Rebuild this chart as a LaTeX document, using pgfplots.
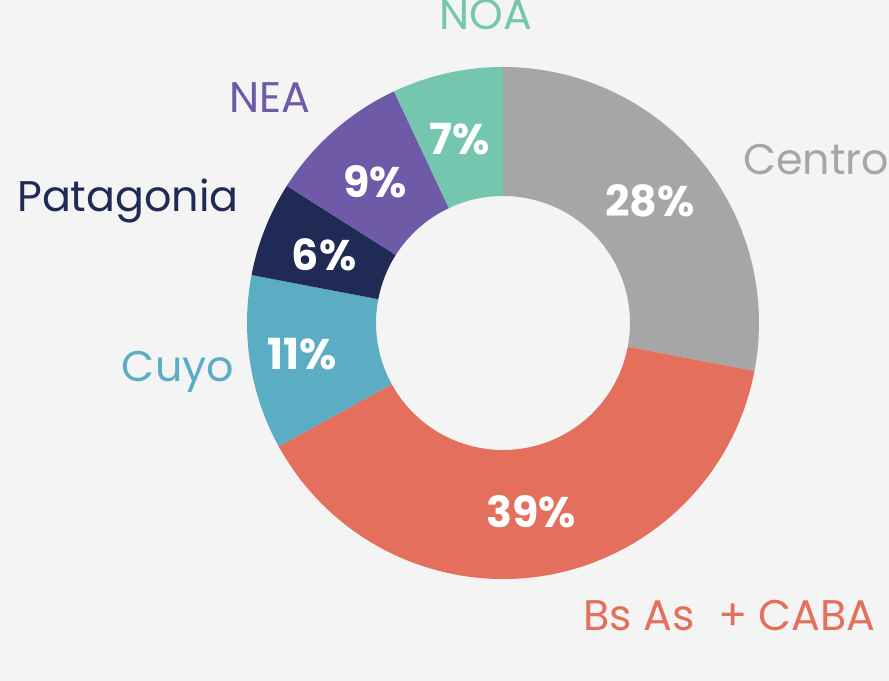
\documentclass[border=0pt]{standalone}
\usepackage{pgfplots}
\pgfplotsset{compat=1.18}
\usepackage{fontspec}
\setmainfont{Poppins}
\definecolor{bg}{HTML}{F4F4F4}
\definecolor{cCentro}{HTML}{A6A6A6}
\definecolor{cBsAs}{HTML}{E46F5C}
\definecolor{cCuyo}{HTML}{5BADC4}
\definecolor{cPatagonia}{HTML}{1F2A55}
\definecolor{cNEA}{HTML}{6E5AA6}
\definecolor{cNOA}{HTML}{75C6AF}
% shares (percent), clockwise from top: Centro, BsAs+CABA, Cuyo, Patagonia, NEA, NOA
\newcommand{\slice}[3]{% start angle, end angle, colour
  \fill[#3] (axis cs:{256*cos(#1)},{256*sin(#1)}) arc[start angle=#1,end angle=#2,radius=256bp]
    -- (axis cs:{127*cos(#2)},{127*sin(#2)}) arc[start angle=#2,end angle=#1,radius=127bp] -- cycle;}
\begin{document}
\begin{tikzpicture}
\begin{axis}[
  at={(0,0)}, anchor=south west,
  width=889bp, height=681bp, scale only axis,
  xmin=-503, xmax=386, ymin=-358, ymax=323,
  hide axis, clip=false]
\fill[bg] (axis cs:-503,-358) rectangle (axis cs:386,323);
% values: 28, 39, 11, 6, 9, 7  -> 3.6 deg per percent
\slice{90}{-10.8}{cCentro}
\slice{-10.8}{-151.2}{cBsAs}
\slice{-151.2}{-190.8}{cCuyo}
\slice{-190.8}{-212.4}{cPatagonia}
\slice{-212.4}{-244.8}{cNEA}
\slice{-244.8}{-270}{cNOA}
% category labels
\node[anchor=base, text=cNOA, font=\fontsize{43}{50}\selectfont, inner sep=0] at (axis cs:-17,293) {NOA};
\node[anchor=base, text=cNEA, font=\fontsize{43}{50}\selectfont, inner sep=0] at (axis cs:-233,210) {NEA};
\node[anchor=base, text=cPatagonia, font=\fontsize{43}{50}\selectfont, inner sep=0] at (axis cs:-375,111) {Patagonia};
\node[anchor=base, text=cCuyo, font=\fontsize{43}{50}\selectfont, inner sep=0] at (axis cs:-325,-59) {Cuyo};
\node[anchor=base west, text=cCentro, font=\fontsize{43}{50}\selectfont, inner sep=0] at (axis cs:240,148) {Centro};
\node[anchor=base west, text=cBsAs, font=\fontsize{43}{50}\selectfont, inner sep=0] at (axis cs:80,-308) {Bs As\hspace{0.55em}+ CABA};
% percentages
\node[anchor=base, text=white, font=\fontsize{43}{50}\selectfont\bfseries, inner sep=0] at (axis cs:147,106) {28\%};
\node[anchor=base, text=white, font=\fontsize{43}{50}\selectfont\bfseries, inner sep=0] at (axis cs:28,-205) {39\%};
\node[anchor=base, text=white, font=\fontsize{43}{50}\selectfont\bfseries, inner sep=0] at (axis cs:-201,-47) {11\%};
\node[anchor=base, text=white, font=\fontsize{43}{50}\selectfont\bfseries, inner sep=0] at (axis cs:-179,52) {6\%};
\node[anchor=base, text=white, font=\fontsize{43}{50}\selectfont\bfseries, inner sep=0] at (axis cs:-128,125) {9\%};
\node[anchor=base, text=white, font=\fontsize{43}{50}\selectfont\bfseries, inner sep=0] at (axis cs:-43,168) {7\%};
\end{axis}
\pgfresetboundingbox
\path (0,0) rectangle (889bp,681bp);
\end{tikzpicture}
\end{document}
